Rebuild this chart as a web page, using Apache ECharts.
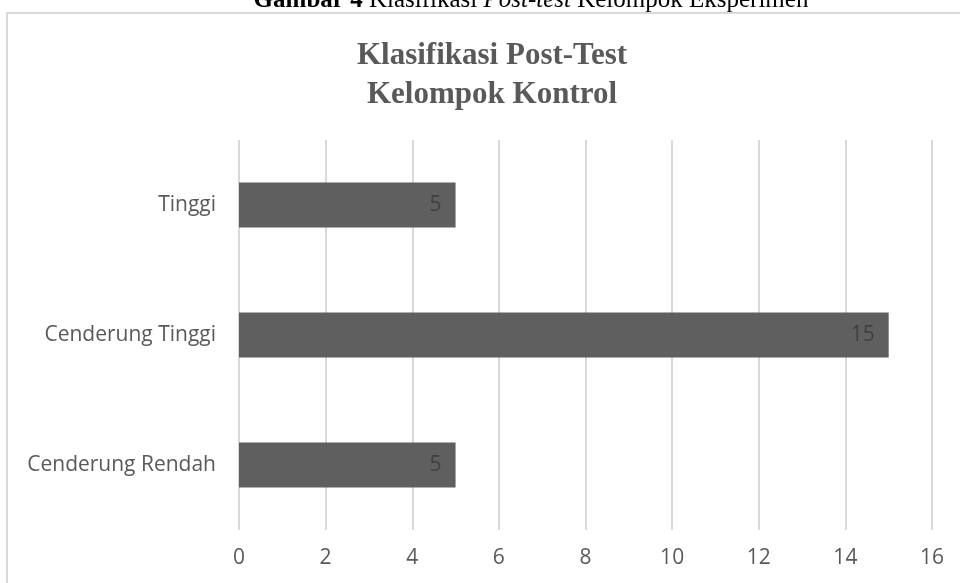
<!DOCTYPE html>
<html>
<head>
<meta charset="utf-8">
<title>Klasifikasi Post-Test Kelompok Kontrol</title>
<script src="https://cdn.jsdelivr.net/npm/echarts@6/dist/echarts.min.js"></script>
<style>
  html, body { margin: 0; padding: 0; background: #ffffff; }
  #chart { width: 960px; height: 583px; }
</style>
</head>
<body>
<div id="chart"></div>
<script>
// kategori dari bawah ke atas (sumbu kategori echarts mulai dari bawah)
var categories = ["Cenderung Rendah", "Cenderung Tinggi", "Tinggi"];
var values = [5, 15, 5];
var xTicks = [0, 2, 4, 6, 8, 10, 12, 14, 16];

var myChart = echarts.init(document.getElementById("chart"));

var option = {
  backgroundColor: "#ffffff",
  animation: false,
  title: {
    text: "Klasifikasi Post-Test\nKelompok Kontrol",
    left: 487,
    top: 31,
    textAlign: "center",
    textStyle: {
      fontFamily: "Liberation Serif",
      fontWeight: "bold",
      fontSize: 31,
      lineHeight: 39,
      color: "#595959"
    }
  },
  graphic: [
    {
      // bingkai grafik
      type: "rect",
      shape: { x: 7, y: 13, width: 1000, height: 700 },
      style: { fill: "none", stroke: "#d9d9d9", lineWidth: 2 },
      silent: true
    },
    {
      // keterangan gambar yang terpotong di atas
      type: "text",
      x: 531,
      y: 13,
      z: -1,
      style: {
        text: "{b|Gambar 4} Klasifikasi {i|Post-test} Kelompok Eksperimen",
        align: "center",
        verticalAlign: "bottom",
        fontFamily: "Liberation Serif",
        fontSize: 25,
        fill: "#000000",
        rich: {
          b: { fontFamily: "Liberation Serif", fontSize: 25, fontWeight: "bold", color: "#000000" },
          i: { fontFamily: "Liberation Serif", fontSize: 25, fontStyle: "italic", color: "#000000" }
        }
      },
      silent: true
    }
  ],
  grid: {
    left: 239,
    right: 28,
    top: 140,
    bottom: 53,
    containLabel: false
  },
  xAxis: {
    type: "value",
    min: xTicks[0],
    max: xTicks[xTicks.length - 1],
    interval: 2,
    axisLine: { show: false },
    axisTick: { show: false },
    splitLine: { show: true, lineStyle: { color: "#d9d9d9", width: 2 } },
    axisLabel: {
      margin: 18,
      fontFamily: "Open Sans",
      fontSize: 21,
      color: "#595959"
    }
  },
  yAxis: {
    type: "category",
    data: categories,
    axisLine: { show: false },
    axisTick: { show: false },
    splitLine: { show: false },
    axisLabel: {
      margin: 23,
      fontFamily: "Open Sans",
      fontSize: 21,
      color: "#595959"
    }
  },
  series: [
    {
      type: "bar",
      data: values,
      barWidth: 45,
      itemStyle: { color: "#5f5f5f" },
      label: {
        show: true,
        position: "insideRight",
        distance: 14,
        fontFamily: "Open Sans",
        fontSize: 21,
        color: "#404040"
      }
    }
  ]
};

myChart.setOption(option);
</script>
</body>
</html>
